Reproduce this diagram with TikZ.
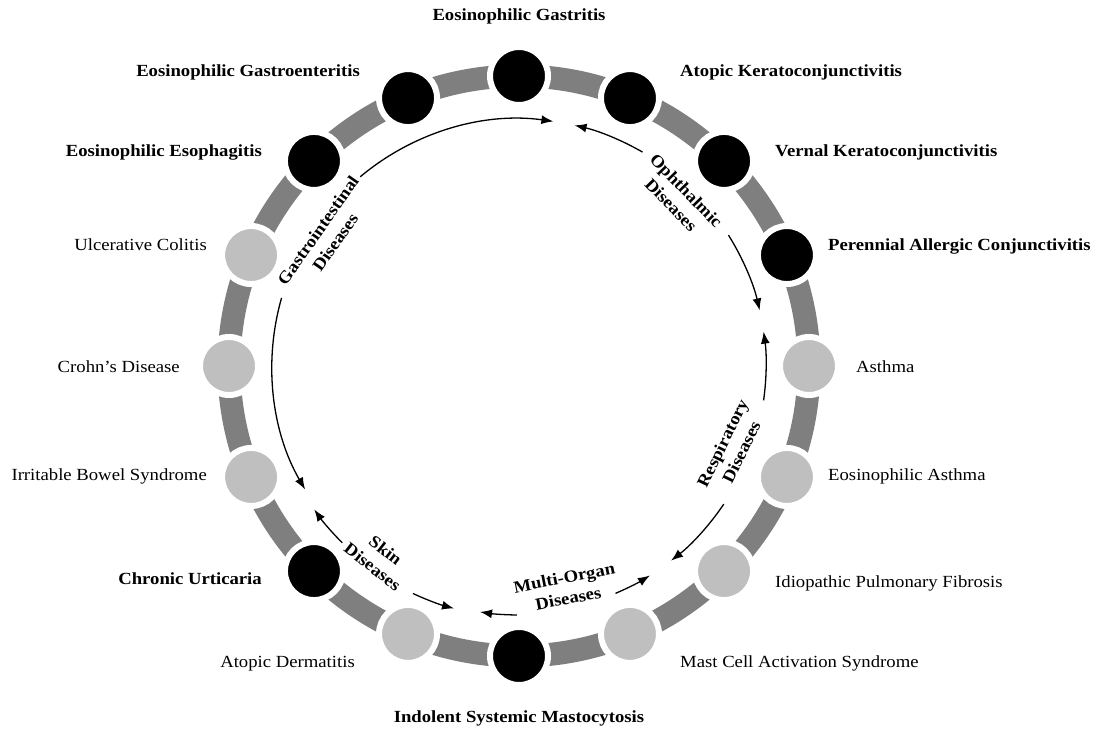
\documentclass[tikz,border=0pt]{standalone}
\usepackage{fontspec}
\setmainfont{Liberation Serif}[FakeStretch=1.1]
\usetikzlibrary{arrows.meta,calc}
\definecolor{ringgray}{HTML}{7F7F7F}
\definecolor{lightnode}{HTML}{BFBFBF}
\begin{document}
\begin{tikzpicture}[x=1pt,y=1pt,
  dot/.style={circle,minimum size=58pt,inner sep=0pt,draw=white,line width=6pt},
  dk/.style={dot,fill=black},
  lt/.style={dot,fill=lightnode},
  lab/.style={font=\fontsize{17}{20}\selectfont, inner sep=0pt},
  blab/.style={font=\fontsize{17}{20}\selectfont\bfseries, inner sep=0pt},
  cat/.style={font=\fontsize{17}{21}\selectfont\bfseries, align=center, inner sep=0pt},
  arr/.style={line width=1.3pt,-{Latex[length=12pt,width=9pt]}},
]
\useasboundingbox (0,0) rectangle (1097,731);
\coordinate (C) at (519,365);
\draw[ringgray,line width=23pt] (C) circle[radius=290];
\foreach \i/\s in {0/dk,1/dk,2/dk,3/dk,4/lt,5/lt,6/lt,7/lt,8/dk,9/lt,10/dk,11/lt,12/lt,13/lt,14/dk,15/dk}
  \node[\s] (n\i) at ($(C)+({90-22.5*\i}:290)$) {};

% outer labels
\node[blab] (l0) at (519,715) {Eosinophilic Gastritis};
\node[blab,anchor=mid west] (l1) at (680,657) {Atopic Keratoconjunctivitis};
\node[blab,anchor=mid west] (l2) at (775,577) {Vernal Keratoconjunctivitis};
\node[blab,anchor=mid west] (l3) at (828,483) {Perennial Allergic Conjunctivitis};
\node[lab,anchor=mid west] (l4) at (856,361) {Asthma};
\node[lab,anchor=mid west] (l5) at (828,253) {Eosinophilic Asthma};
\node[lab,anchor=mid west] (l6) at (775,146) {Idiopathic Pulmonary Fibrosis};
\node[lab,anchor=mid west] (l7) at (680,66) {Mast Cell Activation Syndrome};
\node[blab] (l8) at (519,13) {Indolent Systemic Mastocytosis};
\node[lab,anchor=mid east] (l9) at (355,66) {Atopic Dermatitis};
\node[blab,anchor=mid east] (l10) at (262,149) {Chronic Urticaria};
\node[lab,anchor=mid east] (l11) at (207,253) {Irritable Bowel Syndrome};
\node[lab,anchor=mid east] (l12) at (180,361) {Crohn's Disease};
\node[lab,anchor=mid east] (l13) at (207,483) {Ulcerative Colitis};
\node[blab,anchor=mid east] (l14) at (262,577) {Eosinophilic Esophagitis};
\node[blab,anchor=mid east] (l15) at (360,657) {Eosinophilic Gastroenteritis};

% inner category arrows
\coordinate (g1) at ($(C)+(164:247)$);
\coordinate (g2) at ($(C)+(130:247)$);
\draw[arr] (g1) arc[start angle=164,end angle=210,radius=247];
\draw[arr] (g2) arc[start angle=130,end angle=82,radius=247];
\node[cat,rotate=55] (gi) at ($(C)+(146:232)$) {Gastrointestinal\\Diseases};

\coordinate (o1) at ($(C)+(60:247)$);
\coordinate (o2) at ($(C)+(32:247)$);
\draw[arr] (o1) arc[start angle=60,end angle=77,radius=247];
\draw[arr] (o2) arc[start angle=32,end angle=13,radius=247];
\node[cat,rotate=-46] (oph) at ($(C)+(46.5:232)$) {Ophthalmic\\Diseases};

\coordinate (r1) at ($(C)+(-8:247)$);
\coordinate (r2) at ($(C)+(-34:247)$);
\draw[arr] (r1) arc[start angle=-8,end angle=8,radius=247];
\draw[arr] (r2) arc[start angle=-34,end angle=-52,radius=247];
\node[cat,rotate=64] (resp) at ($(C)+(-21:228)$) {Respiratory\\Diseases};

\coordinate (m1) at ($(C)+(-67:247)$);
\coordinate (m2) at ($(C)+(-90.5:249)$);
\draw[arr] (m1) arc[start angle=-67,end angle=-58,radius=247];
\draw[arr] (m2) arc[start angle=-90.5,end angle=-99,radius=249];
\node[cat,rotate=11] (multi) at ($(C)+(-78:227)$) {Multi-Organ\\Diseases};

\coordinate (s1) at ($(C)+(225:250)$);
\coordinate (s2) at ($(C)+(245:251)$);
\draw[arr] (s1) arc[start angle=225,end angle=215,radius=250];
\draw[arr] (s2) arc[start angle=245,end angle=255,radius=251];
\node[cat,rotate=-38] (skin) at ($(C)+(234:238)$) {Skin\\Diseases};
\end{tikzpicture}
\end{document}
